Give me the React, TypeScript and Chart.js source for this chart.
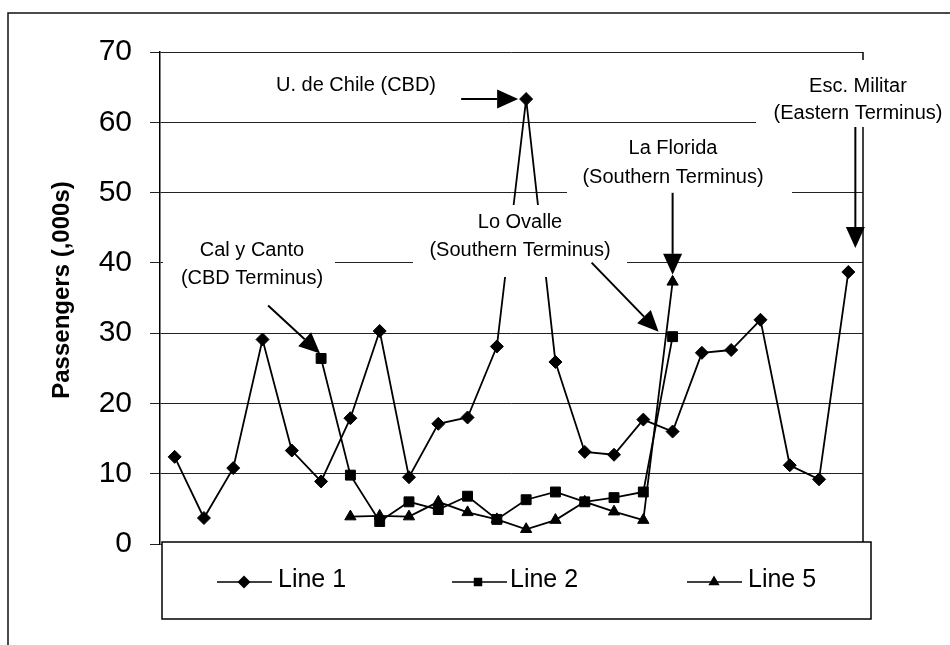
import React, { useEffect, useRef } from 'react';
import { Chart, registerables } from 'chart.js';

Chart.register(...registerables);

// ---- data ----
const categories = ['1', '2', '3', '4', '5', '6', '7', '8', '9', '10', '11', '12', '13', '14', '15', '16', '17', '18', '19', '20', '21', '22', '23', '24'];
const line1Values = [12.4, 3.7, 10.8, 29.1, 13.3, 8.9, 17.9, 30.3, 9.5, 17.1, 18.0, 28.1, 63.3, 25.9, 13.1, 12.7, 17.7, 16.0, 27.2, 27.6, 31.9, 11.2, 9.2, 38.7];
const line2Values = [null, null, null, null, null, 26.4, 9.8, 3.2, 6.0, 4.9, 6.8, 3.5, 6.3, 7.4, 6.0, 6.6, 7.4, 29.5, null, null, null, null, null, null];
const line5Values = [null, null, null, null, null, null, 3.9, 4.0, 3.9, 6.0, 4.5, 3.5, 2.1, 3.4, 6.0, 4.6, 3.4, 37.3, null, null, null, null, null, null];
const yTickValues = [0, 10, 20, 30, 40, 50, 60, 70];
const seriesNames = ['Line 1', 'Line 2', 'Line 5'];
const yTitle = 'Passengers (,000s)';

const FONT = '"Liberation Sans", Arial, Helvetica, sans-serif';

type Label = { lines: string[]; cx: number; ys: number[]; box: [number, number, number, number] };
const labels: Label[] = [
  { lines: ['U. de Chile (CBD)'], cx: 356, ys: [85], box: [270, 70, 445, 100] },
  { lines: ['Cal y Canto', '(CBD Terminus)'], cx: 252, ys: [250, 278], box: [163, 234, 335, 295] },
  { lines: ['Lo Ovalle', '(Southern Terminus)'], cx: 520, ys: [222, 250], box: [413, 205, 627, 277] },
  { lines: ['La Florida', '(Southern Terminus)'], cx: 673, ys: [148, 177], box: [567, 130, 792, 197] },
  { lines: ['Esc. Militar', '(Eastern Terminus)'], cx: 858, ys: [86, 113], box: [756, 60, 950, 127] },
];

type Arrow = { series: (number | null)[]; idx: number; tip: [number, number]; tail: [number, number] };
const arrows: Arrow[] = [
  { series: line1Values, idx: 12, tip: [-8, 0], tail: [-65, 0] },
  { series: line2Values, idx: 5, tip: [-1, -5], tail: [-53, -53] },
  { series: line2Values, idx: 17, tip: [-14, -5], tail: [-81, -74] },
  { series: line5Values, idx: 17, tip: [0, -7], tail: [0, -89] },
  { series: line1Values, idx: 23, tip: [7, -24], tail: [7, -145] },
];

function drawArrow(ctx: CanvasRenderingContext2D, x1: number, y1: number, x2: number, y2: number) {
  const ang = Math.atan2(y2 - y1, x2 - x1);
  const headLen = 21;
  const headHalf = 9.5;
  const bx = x2 - Math.cos(ang) * headLen;
  const by = y2 - Math.sin(ang) * headLen;
  ctx.save();
  ctx.strokeStyle = '#000';
  ctx.fillStyle = '#000';
  ctx.lineWidth = 2;
  ctx.beginPath();
  ctx.moveTo(x1, y1);
  ctx.lineTo(bx, by);
  ctx.stroke();
  ctx.beginPath();
  ctx.moveTo(x2, y2);
  ctx.lineTo(bx + Math.sin(ang) * headHalf, by - Math.cos(ang) * headHalf);
  ctx.lineTo(bx - Math.sin(ang) * headHalf, by + Math.cos(ang) * headHalf);
  ctx.closePath();
  ctx.fill();
  ctx.restore();
}

function drawMarker(ctx: CanvasRenderingContext2D, style: string, x: number, y: number, r: number) {
  ctx.beginPath();
  if (style === 'rectRot') {
    ctx.moveTo(x - r, y);
    ctx.lineTo(x, y - r);
    ctx.lineTo(x + r, y);
    ctx.lineTo(x, y + r);
  } else if (style === 'rect') {
    const s = r * Math.SQRT1_2;
    ctx.rect(x - s, y - s, 2 * s, 2 * s);
  } else {
    const h = r * 1.5;
    ctx.moveTo(x, y - r);
    ctx.lineTo(x + r * 0.866, y + r * 0.5);
    ctx.lineTo(x - r * 0.866, y + r * 0.5);
    void h;
  }
  ctx.closePath();
  ctx.fill();
}

const decorPlugin = {
  id: 'decor',
  beforeDatasetsDraw(chart: any) {
    const { ctx, chartArea } = chart;
    ctx.save();
    ctx.strokeStyle = '#000';
    ctx.lineWidth = 1.5;
    ctx.beginPath();
    ctx.moveTo(chartArea.right, chartArea.top);
    ctx.lineTo(chartArea.right, chartArea.bottom);
    ctx.stroke();
    ctx.restore();
  },
  afterDatasetsDraw(chart: any) {
    const { ctx } = chart;
    const xs = chart.scales.x;
    const ys = chart.scales.y;
    ctx.save();
    // label boxes and text
    for (const lb of labels) {
      ctx.fillStyle = '#fff';
      const [x0, y0, x1, y1] = lb.box;
      ctx.fillRect(x0, y0, x1 - x0, y1 - y0);
      ctx.fillStyle = '#000';
      ctx.font = `20px ${FONT}`;
      ctx.textAlign = 'center';
      ctx.textBaseline = 'middle';
      lb.lines.forEach((t, i) => ctx.fillText(t, lb.cx, lb.ys[i]));
    }
    // arrows anchored to data points
    for (const a of arrows) {
      const v = a.series[a.idx] as number;
      const px = xs.getPixelForValue(a.idx);
      const py = ys.getPixelForValue(v);
      drawArrow(ctx, px + a.tail[0], py + a.tail[1], px + a.tip[0], py + a.tip[1]);
    }
    // legend box
    const lx0 = 162, ly0 = 542, lx1 = 871, ly1 = 619;
    ctx.fillStyle = '#fff';
    ctx.fillRect(lx0, ly0, lx1 - lx0, ly1 - ly0);
    ctx.strokeStyle = '#000';
    ctx.lineWidth = 1.5;
    ctx.strokeRect(lx0, ly0, lx1 - lx0, ly1 - ly0);
    const legendPos = [
      { x1: 217, x2: 272, mx: 244, tx: 278 },
      { x1: 452, x2: 507, mx: 478, tx: 510 },
      { x1: 687, x2: 742, mx: 714, tx: 748 },
    ];
    const ly = 582;
    chart.data.datasets.forEach((ds: any, i: number) => {
      const p = legendPos[i];
      ctx.strokeStyle = '#000';
      ctx.lineWidth = 1.5;
      ctx.beginPath();
      ctx.moveTo(p.x1, ly);
      ctx.lineTo(p.x2, ly);
      ctx.stroke();
      ctx.fillStyle = '#000';
      drawMarker(ctx, ds.pointStyle, p.mx, ly, ds.pointStyle === 'rect' ? 6 : 6.5);
      ctx.font = `25px ${FONT}`;
      ctx.textAlign = 'left';
      ctx.textBaseline = 'alphabetic';
      ctx.fillText(ds.label, p.tx, 587);
    });
    // y title
    ctx.save();
    ctx.translate(62, 290);
    ctx.rotate(-Math.PI / 2);
    ctx.font = `bold 24px ${FONT}`;
    ctx.textAlign = 'center';
    ctx.textBaseline = 'middle';
    ctx.fillStyle = '#000';
    ctx.fillText(yTitle, 0, 0);
    ctx.restore();
    // outer frame
    ctx.strokeStyle = '#111';
    ctx.lineWidth = 1.5;
    ctx.beginPath();
    ctx.moveTo(8, 645);
    ctx.lineTo(8, 13);
    ctx.lineTo(950, 13);
    ctx.stroke();
    ctx.restore();
  },
};

export default function App() {
  const ref = useRef<HTMLCanvasElement | null>(null);
  useEffect(() => {
    if (!ref.current) return;
    const chart = new Chart(ref.current, {
      type: 'line',
      data: {
        labels: categories,
        datasets: [
          {
            label: seriesNames[0],
            data: line1Values,
            borderColor: '#000',
            backgroundColor: '#000',
            borderWidth: 1.8,
            pointStyle: 'rectRot',
            pointRadius: 6.5,
            pointBackgroundColor: '#000',
            pointBorderColor: '#000',
            pointBorderWidth: 1,
            tension: 0,
          },
          {
            label: seriesNames[1],
            data: line2Values,
            borderColor: '#000',
            backgroundColor: '#000',
            borderWidth: 1.8,
            pointStyle: 'rect',
            pointRadius: 7,
            pointBackgroundColor: '#000',
            pointBorderColor: '#000',
            pointBorderWidth: 1,
            tension: 0,
          },
          {
            label: seriesNames[2],
            data: line5Values,
            borderColor: '#000',
            backgroundColor: '#000',
            borderWidth: 1.8,
            pointStyle: 'triangle',
            pointRadius: 6.5,
            pointBackgroundColor: '#000',
            pointBorderColor: '#000',
            pointBorderWidth: 1,
            tension: 0,
          },
        ] as any,
      },
      options: {
        responsive: false,
        animation: false,
        layout: { padding: { left: 0, top: 52, right: 87, bottom: 101 } },
        plugins: {
          legend: { display: false },
          tooltip: { enabled: false },
          title: { display: false },
        },
        scales: {
          x: { type: 'category', display: false, offset: true },
          y: {
            min: 0,
            max: 70,
            afterBuildTicks: (s: any) => {
              s.ticks = yTickValues.map((v) => ({ value: v }));
            },
            afterFit: (s: any) => {
              s.width = 160;
            },
            ticks: {
              font: { family: FONT, size: 30 },
              color: '#000',
              padding: 18,
            },
            grid: { color: '#222', lineWidth: 1, tickLength: 10, drawTicks: true },
            border: { display: true, color: '#000', width: 1.5 },
          },
        },
      } as any,
      plugins: [decorPlugin],
    });
    return () => chart.destroy();
  }, []);
  return (
    <div style={{ position: 'fixed', left: 0, top: 0, width: 950, height: 645, background: '#fff' }}>
      <canvas ref={ref} width={950} height={645} style={{ display: 'block', width: 950, height: 645 }} />
    </div>
  );
}
